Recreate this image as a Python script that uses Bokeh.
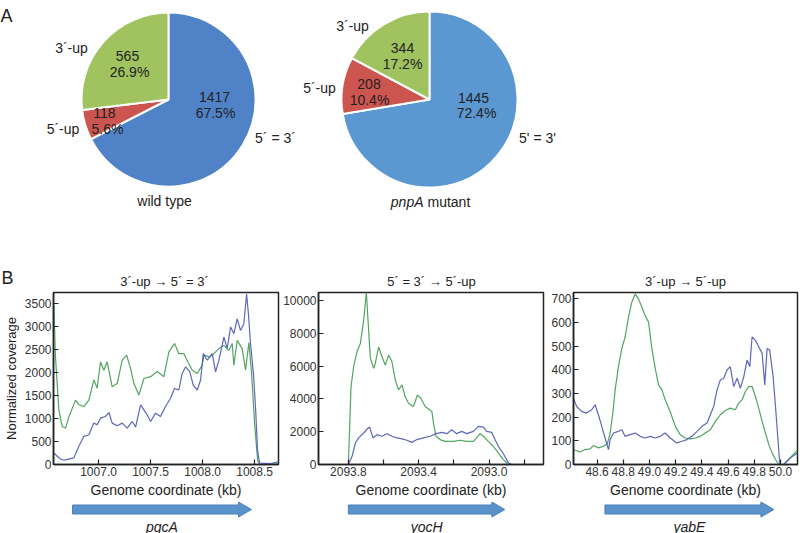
import math
from bokeh.plotting import figure
from bokeh.layouts import column, row
from bokeh.models import Range1d, FixedTicker, PrintfTickFormatter
from bokeh.embed import file_html
from bokeh.resources import INLINE
from bokeh.core.properties import value

FONT = "Liberation Sans"

# ---------------- DATA: panel A (pie charts) ----------------
# order: 5'=3' (blue), 5'-up (red), 3'-up (green), clockwise from 12 o'clock
wt_labels = ["5´ = 3´", "5´-up", "3´-up"]
pnp_labels = ["5' = 3'", "5´-up", "3´-up"]
wt_counts = [1417, 118, 565]
pnp_counts = [1445, 208, 344]
wt_caption = "wild type"
pnp_caption_italic = "pnpA"
pnp_caption_rest = "mutant"

# ---------------- DATA: panel B (coverage traces) ----------------
titles_b = ["3´-up \u2192 5´ = 3´", "5´ = 3´ \u2192 5´-up", "3´-up \u2192 5´-up"]
genes = ["pgcA", "yocH", "yabE"]
gene_start = [1006.75, 2093.80, 48.66]
gene_end = [1008.47, 2092.91, 49.95]

pgcA_x_ticks = [1007.0, 1007.5, 1008.0, 1008.5]
pgcA_y_ticks = [0, 500, 1000, 1500, 2000, 2500, 3000, 3500]
yocH_x_ticks = [2093.8, 2093.4, 2093.0]
yocH_x_minor = [2093.6, 2093.2, 2092.8]
yocH_y_ticks = [0, 2000, 4000, 6000, 8000, 10000]
yabE_x_ticks = [48.6, 48.8, 49.0, 49.2, 49.4, 49.6, 49.8, 50.0]
yabE_y_ticks = [0, 100, 200, 300, 400, 500, 600, 700]

pgcA_wt_x = [1006.57, 1006.586, 1006.618, 1006.65, 1006.683, 1006.715, 1006.747, 1006.779, 1006.811,
             1006.859, 1006.907, 1006.955, 1006.987, 1007.019, 1007.051, 1007.083, 1007.131, 1007.179,
             1007.228, 1007.269, 1007.308, 1007.34, 1007.388, 1007.436, 1007.5, 1007.564, 1007.628,
             1007.676, 1007.731, 1007.772, 1007.821, 1007.859, 1007.901, 1007.949, 1007.997, 1008.013,
             1008.061, 1008.109, 1008.157, 1008.205, 1008.253, 1008.285, 1008.301, 1008.333, 1008.381,
             1008.413, 1008.445, 1008.471, 1008.5, 1008.529, 1008.548, 1008.654, 1008.73]
pgcA_wt_y = [3500, 2340, 1190, 830, 790, 1040, 1220, 1400, 1300,
             1260, 1400, 1840, 1660, 2230, 2050, 2230, 1690, 1760,
             2270, 2380, 2090, 1760, 1510, 1870, 1910, 2020, 1910,
             2450, 2630, 2410, 2410, 2230, 2050, 1980, 2160, 2380,
             2340, 2410, 2520, 2590, 2480, 2630, 2160, 2700, 2520,
             2050, 2650, 2000, 900, 100, 0, 0, 20]
pgcA_mut_x = [1006.57, 1006.603, 1006.635, 1006.667, 1006.70, 1006.763, 1006.811, 1006.859, 1006.907,
              1006.955, 1006.987, 1007.019, 1007.067, 1007.1, 1007.131, 1007.179, 1007.228, 1007.276,
              1007.324, 1007.356, 1007.404, 1007.436, 1007.468, 1007.5, 1007.548, 1007.596, 1007.644,
              1007.692, 1007.731, 1007.772, 1007.804, 1007.837, 1007.878, 1007.91, 1007.949, 1007.981,
              1008.007, 1008.045, 1008.093, 1008.125, 1008.157, 1008.205, 1008.237, 1008.269, 1008.301,
              1008.333, 1008.365, 1008.397, 1008.423, 1008.44, 1008.462, 1008.49, 1008.51, 1008.529,
              1008.548, 1008.654, 1008.73]
pgcA_mut_y = [250, 180, 120, 93, 110, 144, 396, 612, 648,
              900, 864, 1008, 1044, 1130, 900, 842, 900, 792,
              936, 814, 1296, 1188, 1080, 936, 1116, 1044, 1260,
              1440, 1656, 1620, 1980, 2124, 2016, 1728, 1620, 1836,
              2412, 2268, 2412, 2016, 2268, 2772, 2520, 2988, 2844,
              3168, 2916, 3060, 3708, 3300, 2600, 1950, 1200, 300,
              30, 20, 60]

yocH_wt_x = [2093.97, 2093.80, 2093.785, 2093.77, 2093.751, 2093.732, 2093.713, 2093.698, 2093.675,
             2093.656, 2093.647, 2093.628, 2093.609, 2093.59, 2093.571, 2093.552, 2093.533, 2093.515,
             2093.495, 2093.477, 2093.458, 2093.43, 2093.407, 2093.388, 2093.363, 2093.325, 2093.316,
             2093.301, 2093.278, 2093.25, 2093.203, 2093.165, 2093.127, 2093.089, 2093.07, 2093.051,
             2093.032, 2093.004, 2092.976, 2092.947, 2092.919, 2092.89, 2092.69]
yocH_wt_y = [0, 0, 4750, 5960, 6870, 7370, 8790, 10500, 6470,
             5860, 6160, 7170, 6570, 6060, 6670, 6260, 5150, 4550,
             4850, 4140, 3740, 3540, 4240, 4040, 3540, 3230, 2530,
             1720, 1520, 1410, 1410, 1480, 1410, 1410, 1620, 1880,
             1720, 1410, 1110, 710, 300, 0, 0]
yocH_mut_x = [2093.97, 2093.80, 2093.779, 2093.76, 2093.742, 2093.713, 2093.694, 2093.679, 2093.66,
              2093.637, 2093.609, 2093.58, 2093.552, 2093.524, 2093.495, 2093.467, 2093.439, 2093.41,
              2093.373, 2093.335, 2093.301, 2093.268, 2093.24, 2093.212, 2093.184, 2093.155, 2093.127,
              2093.089, 2093.061, 2093.032, 2093.013, 2092.985, 2092.966, 2092.947, 2092.919, 2092.89,
              2092.871, 2092.69]
yocH_mut_y = [0, 0, 500, 1310, 1620, 1920, 2160, 2280, 1620,
              1820, 1720, 1880, 1720, 1620, 1560, 1480, 1350, 1520,
              1620, 1720, 1880, 1960, 1880, 2120, 1880, 2020, 1880,
              2020, 2320, 2280, 2020, 1960, 1520, 1110, 670, 100,
              0, 0]

yabE_wt_x = [48.42, 48.432, 48.47, 48.508, 48.547, 48.572, 48.61, 48.648, 48.679, 48.7,
             48.72, 48.738, 48.763, 48.789, 48.814, 48.84, 48.865, 48.891, 48.916, 48.942,
             48.967, 48.993, 49.018, 49.044, 49.069, 49.095, 49.12, 49.158, 49.197, 49.235,
             49.273, 49.312, 49.35, 49.388, 49.426, 49.465, 49.503, 49.541, 49.579, 49.617,
             49.656, 49.681, 49.707, 49.732, 49.758, 49.783, 49.809, 49.834, 49.86, 49.885,
             49.911, 49.936, 49.962, 49.987, 50.025, 50.076, 50.13]
yabE_wt_y = [68, 60, 53, 63, 66, 80, 70, 77, 88, 133,
             217, 315, 413, 490, 538, 622, 685, 720, 699, 664,
             629, 601, 490, 406, 336, 315, 273, 224, 161, 126,
             112, 108, 112, 119, 133, 147, 182, 210, 228, 238,
             231, 259, 273, 308, 329, 329, 287, 238, 182, 133,
             84, 49, 21, 0, 0, 30, 60]
yabE_mut_x = [48.42, 48.444, 48.482, 48.52, 48.559, 48.585, 48.61, 48.636, 48.661, 48.687,
              48.7, 48.725, 48.763, 48.789, 48.814, 48.852, 48.891, 48.929, 48.967, 49.005,
              49.044, 49.082, 49.12, 49.158, 49.209, 49.248, 49.286, 49.324, 49.363, 49.401,
              49.439, 49.465, 49.49, 49.516, 49.541, 49.567, 49.592, 49.617, 49.643, 49.669,
              49.694, 49.72, 49.745, 49.766, 49.783, 49.809, 49.834, 49.86, 49.88, 49.898,
              49.918, 49.944, 49.962, 49.98, 49.995, 50.025, 50.076, 50.13]
yabE_mut_y = [280, 245, 224, 217, 231, 252, 210, 161, 112, 63,
              105, 133, 140, 147, 119, 126, 133, 119, 112, 119,
              112, 119, 133, 112, 91, 98, 105, 119, 140, 161,
              175, 210, 245, 315, 357, 364, 399, 413, 329, 364,
              322, 371, 441, 413, 538, 524, 497, 469, 336, 490,
              483, 371, 245, 112, 0, 0, 28, 49]

# ---------------- STYLE / LAYOUT ----------------
GREEN_LINE = "#3E9B4F"
BLUE_LINE = "#4C56B0"
SLICE_COLORS_WT = ["#4F82C6", "#CD5550", "#A0C35F"]
SLICE_COLORS_PNP = ["#5B97D0", "#CD5550", "#A0C35F"]
TXT = "#222222"
ARROW_FILL = "#5A92CC"

TOTAL_W = 800
TOP_H = 290


def X(ix):  # picture px -> top-figure data units
    return ix


def Y(iy):
    return TOP_H - iy


def wedge_angles(counts):
    total = float(sum(counts))
    starts, ends = [], []
    a = math.pi / 2
    for c in counts:
        span = 2 * math.pi * c / total
        starts.append(a - span)
        ends.append(a)
        a -= span
    return starts, ends


def pct(counts):
    t = float(sum(counts))
    return ["%.1f%%" % (100.0 * c / t) for c in counts]


pA = figure(width=TOTAL_W, height=TOP_H, x_range=Range1d(0, TOTAL_W), y_range=Range1d(0, TOP_H),
            output_backend="svg", toolbar_location=None, min_border=0,
            x_axis_location=None, y_axis_location=None)
pA.grid.visible = False
pA.outline_line_color = None


def txt(p, xs, ys, texts, size="14px", style="normal", align="center", baseline="middle"):
    p.text(x=xs, y=ys, text=texts, text_font=value(FONT), text_font_size=size,
           text_font_style=style, text_align=align, text_baseline=baseline, text_color=TXT)


# pie 1
s, e = wedge_angles(wt_counts)
pA.wedge(x=X(168), y=Y(99), radius=87, start_angle=s, end_angle=e, direction="anticlock",
         fill_color=SLICE_COLORS_WT, line_color="white", line_width=2)
wt_cnt_pos = [(214, 96.5), (104, 112), (127, 55)]
wt_pct_pos = [(215, 112), (107, 128.5), (129, 71.5)]
wt_out_pos = [(275, 137), (62.5, 128), (71, 47.5)]
txt(pA, [X(p[0]) for p in wt_cnt_pos], [Y(p[1]) for p in wt_cnt_pos], [str(c) for c in wt_counts])
txt(pA, [X(p[0]) for p in wt_pct_pos], [Y(p[1]) for p in wt_pct_pos], pct(wt_counts))
txt(pA, [X(p[0]) for p in wt_out_pos], [Y(p[1]) for p in wt_out_pos], wt_labels)
txt(pA, [X(164)], [Y(200)], [wt_caption])

# pie 2
s, e = wedge_angles(pnp_counts)
pA.wedge(x=X(429), y=Y(99), radius=88, start_angle=s, end_angle=e, direction="anticlock",
         fill_color=SLICE_COLORS_PNP, line_color="white", line_width=2)
pnp_cnt_pos = [(473, 97), (368.5, 83), (402, 47)]
pnp_pct_pos = [(476, 112), (369, 99.5), (402, 63)]
pnp_out_pos = [(537, 137), (319, 87), (352, 25)]
txt(pA, [X(p[0]) for p in pnp_cnt_pos], [Y(p[1]) for p in pnp_cnt_pos], [str(c) for c in pnp_counts])
txt(pA, [X(p[0]) for p in pnp_pct_pos], [Y(p[1]) for p in pnp_pct_pos], pct(pnp_counts))
txt(pA, [X(p[0]) for p in pnp_out_pos], [Y(p[1]) for p in pnp_out_pos], pnp_labels)
txt(pA, [X(423)], [Y(201)], [pnp_caption_italic], style="italic", align="right")
txt(pA, [X(427)], [Y(201)], [pnp_caption_rest], align="left")

# panel letters and panel-B titles
txt(pA, [X(0)], [Y(15)], ["A"], size="18px", align="left", baseline="alphabetic")
txt(pA, [X(1)], [Y(277)], ["B"], size="18px", align="left", baseline="alphabetic")
title_x = [164, 431, 685]
txt(pA, [X(v) for v in title_x], [Y(281)] * 3, titles_b, size="13px")

# ---------------- line figures ----------------
LINE_H = 210          # picture rows 290..500
MB_TOP, MB_BOT = 2, 36
widths = [280, 266, 254]
mbl = [53, 38, 27]
mbr = [2, 3, 3]
x_ranges = [Range1d(1006.567, 1008.73), Range1d(2093.97, 2092.69), Range1d(48.42, 50.13)]
y_ranges = [Range1d(0, 3740), Range1d(0, 10485), Range1d(0, 726)]


def style_axis(ax, label_size):
    ax.axis_line_color = "#222222"
    ax.axis_line_width = 1.5
    ax.major_tick_in = 5
    ax.major_tick_out = 0
    ax.major_tick_line_color = "#222222"
    ax.major_tick_line_width = 1.2
    ax.minor_tick_in = 0
    ax.minor_tick_out = 0
    ax.major_label_text_font = FONT
    ax.major_label_text_font_size = "12px"
    ax.major_label_text_color = "#333333"
    ax.major_label_standoff = 2
    ax.axis_label_text_font = FONT
    ax.axis_label_text_font_style = "normal"
    ax.axis_label_text_font_size = label_size
    ax.axis_label_text_color = TXT
    ax.axis_label_standoff = 3


def line_fig(i, xticks, xminor, yticks, fmt, wt_x, wt_y, mut_x, mut_y, ylabel=None):
    p = figure(width=widths[i], height=LINE_H, x_range=x_ranges[i], y_range=y_ranges[i],
               output_backend="svg", toolbar_location=None,
               min_border_left=mbl[i], min_border_right=mbr[i],
               min_border_top=MB_TOP, min_border_bottom=MB_BOT)
    p.grid.visible = False
    p.outline_line_color = "#222222"
    p.outline_line_width = 1.5
    p.outline_line_alpha = 1.0
    p.xaxis.ticker = FixedTicker(ticks=xticks, minor_ticks=xminor)
    p.yaxis.ticker = FixedTicker(ticks=yticks)
    p.xaxis.formatter = PrintfTickFormatter(format=fmt)
    p.xaxis.axis_label = "Genome coordinate (kb)"
    style_axis(p.xaxis[0], "14px")
    style_axis(p.yaxis[0], "13px")
    if xminor:
        p.xaxis.minor_tick_in = 5
        p.xaxis.minor_tick_line_color = "#222222"
        p.xaxis.minor_tick_line_width = 1.2
    if ylabel:
        p.yaxis.axis_label = ylabel
    p.line(wt_x, wt_y, line_color=GREEN_LINE, line_width=1.2, line_alpha=0.9)
    p.line(mut_x, mut_y, line_color=BLUE_LINE, line_width=1.2, line_alpha=0.9)
    return p


f1 = line_fig(0, pgcA_x_ticks, [], pgcA_y_ticks, "%.1f", pgcA_wt_x, pgcA_wt_y, pgcA_mut_x, pgcA_mut_y,
              ylabel="Normalized coverage")
f2 = line_fig(1, yocH_x_ticks, yocH_x_minor, yocH_y_ticks, "%.1f", yocH_wt_x, yocH_wt_y, yocH_mut_x, yocH_mut_y)
f3 = line_fig(2, yabE_x_ticks, [], yabE_y_ticks, "%.1f", yabE_wt_x, yabE_wt_y, yabE_mut_x, yabE_mut_y)

# ---------------- gene arrows ----------------
ARR_H = 33            # picture rows 500..533
ARR_Y = 24            # arrow axis (px above strip bottom) -> picture row 509
BODY_HALF = 4.5
HEAD_HALF = 7.5
HEAD_PX = 13
LABEL_Y = 7           # gene name baseline -> picture row 526


def arrow_fig(i):
    p = figure(width=widths[i], height=ARR_H, x_range=x_ranges[i], y_range=Range1d(0, ARR_H),
               output_backend="svg", toolbar_location=None,
               min_border_left=mbl[i], min_border_right=mbr[i], min_border_top=0, min_border_bottom=0,
               x_axis_location=None, y_axis_location=None)
    p.grid.visible = False
    p.outline_line_color = None
    xr = x_ranges[i]
    frame_w = widths[i] - mbl[i] - mbr[i]
    kb_per_px = abs(xr.end - xr.start) / frame_w
    s0, e0 = gene_start[i], gene_end[i]
    d = 1 if e0 > s0 else -1
    hb = e0 - d * HEAD_PX * kb_per_px
    xs = [s0, hb, hb, e0, hb, hb, s0]
    ys = [ARR_Y - BODY_HALF, ARR_Y - BODY_HALF, ARR_Y - HEAD_HALF, ARR_Y,
          ARR_Y + HEAD_HALF, ARR_Y + BODY_HALF, ARR_Y + BODY_HALF]
    p.patch(xs, ys, fill_color=ARROW_FILL, line_color="#4A80BA", line_width=1)
    p.text(x=[(s0 + e0) / 2.0], y=[LABEL_Y], text=[genes[i]], text_font=value(FONT), text_font_size="14px",
           text_font_style="italic", text_align="center", text_baseline="alphabetic", text_color=TXT)
    return p


a1, a2, a3 = arrow_fig(0), arrow_fig(1), arrow_fig(2)

layout = column(pA, row(f1, f2, f3), row(a1, a2, a3))
open("out.html", "w").write(file_html(layout, INLINE))
